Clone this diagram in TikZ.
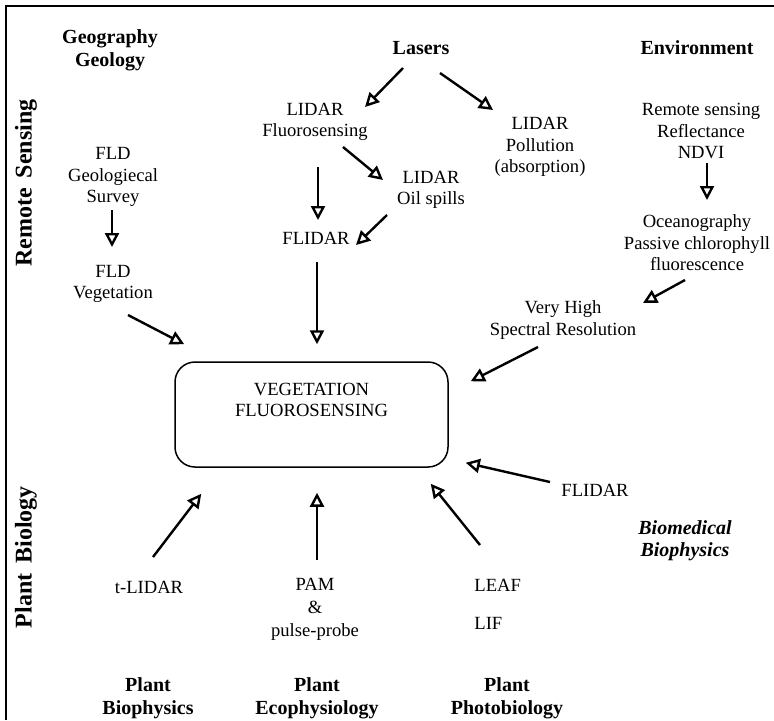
\documentclass[tikz,border=0pt]{standalone}
\usepackage{fontspec}
\setmainfont{Liberation Serif}
\usetikzlibrary{arrows.meta}
\tikzset{
  lbl/.style={font=\fontsize{9.3}{10.7}\selectfont, align=center, inner sep=0pt},
  head/.style={font=\fontsize{10}{11.5}\selectfont\bfseries, align=center, inner sep=0pt},
  side/.style={font=\fontsize{12}{14}\selectfont\bfseries, rotate=90, inner sep=0pt},
  arr/.style={line width=1.2pt, -{Triangle[open,length=7pt,width=7pt]}}
}
\begin{document}
\begin{tikzpicture}[x=0.5pt,y=-0.5pt]
                    \useasboundingbox (0,0) rectangle (774,720);
                    % Drawing frame
                    \draw [line width=1.1pt] (6,720) -- (6,6) -- (774,6);%

                    % Side titles
                    \node [side] (remsens) at (26,183) {Remote\hspace{5pt}Sensing};%
                    \node [side] (plantbio) at (26,557) {Plant\hspace{5pt}Biology};%

                    % Headings
                    \node [head] (geo) at (110,50) {Geography\\Geology};%
                    \node [head] (lasers) at (421,48) {Lasers};%
                    \node [head] (env) at (697,48) {Environment};%
                    \node [head] (pbiophys) at (148,698) {Plant\\Biophysics};%
                    \node [head] (pecophys) at (317,698) {Plant\\Ecophysiology};%
                    \node [head] (pphoto) at (507,698) {Plant\\Photobiology};%
                    \node [head, font=\fontsize{10}{11}\selectfont\bfseries\itshape] (biomed) at (685,541) {Biomedical\\Biophysics};%

                    % Techniques
                    \node [lbl] (lidarfl) at (315,122) {LIDAR\\Fluorosensing};%
                    \node [lbl] (lidarpol) at (540,147) {LIDAR\\Pollution\\(absorption)};%
                    \node [lbl] (lidaroil) at (431,190) {LIDAR\\Oil spills};%
                    \node [lbl] (flidartop) at (316,238) {FLIDAR};%
                    \node [lbl] (fldgeo) at (113,177) {FLD\\Geologiecal\\Survey};%
                    \node [lbl] (fldveg) at (113,284) {FLD\\Vegetation};%
                    \node [lbl] (remref) at (701,131) {Remote sensing\\Reflectance\\NDVI};%
                    \node [lbl] (ocean) at (697,243) {Oceanography\\Passive chlorophyll\\fluorescence};%
                    \node [lbl] (vhsr) at (563,320) {Very High\\Spectral Resolution};%
                    \node [lbl] (flidarright) at (595,490) {FLIDAR};%
                    \node [lbl] (tlidar) at (149,587) {t-LIDAR};%
                    \node [lbl, font=\fontsize{9.3}{11.5}\selectfont] (pam) at (315,609) {PAM\\\&\\pulse-probe};%
                    \node [lbl, align=left, anchor=west] (leaf) at (474,604.5) {LEAF\\[8pt]LIF};%

                    % Central box
                    \node [lbl, draw, line width=0.75pt, rounded corners=10pt, minimum width=136.5pt, minimum height=52.5pt]
                      (vegfl) at (311.5,414.5) {VEGETATION\\FLUOROSENSING\\[4pt]};%

                    % Drawing arrows
                    \draw [arr] ([shift={(-18,20)}]lasers.center) -- ([shift={(50,-15)}]lidarfl.center);%
                    \draw [arr] ([shift={(19,25)}]lasers.center) -- ([shift={(-47,-37)}]lidarpol.center);%
                    \draw [arr] ([shift={(28,25)}]lidarfl.center) -- ([shift={(-48,-10)}]lidaroil.center);%
                    \draw [arr] ([shift={(3,45)}]lidarfl.center) -- ([shift={(2,-18)}]flidartop.center);%
                    \draw [arr] ([shift={(-44,25)}]lidaroil.center) -- ([shift={(40,7)}]flidartop.center);%
                    \draw [arr] ([shift={(1,24)}]flidartop.center) -- ([shift={(5.5,-17)}]vegfl.north);%
                    \draw [arr] ([shift={(-1,33)}]fldgeo.center) -- ([shift={(-1,-37)}]fldveg.center);%
                    \draw [arr] ([shift={(15,31)}]fldveg.center) -- ([shift={(10,-17)}]vegfl.north west);%
                    \draw [arr] ([shift={(6,32)}]remref.center) -- ([shift={(10,-43)}]ocean.center);%
                    \draw [arr] ([shift={(-12,37)}]ocean.center) -- ([shift={(80,-17)}]vhsr.center);%
                    \draw [arr] ([shift={(-25,27)}]vhsr.center) -- ([shift={(22,20)}]vegfl.north east);%
                    \draw [arr] ([shift={(-45,-8)}]flidarright.center) -- ([shift={(17,-5)}]vegfl.south east);%
                    \draw [arr] ([shift={(4,-30)}]tlidar.center) -- ([shift={(27,26)}]vegfl.south west);%
                    \draw [arr] ([shift={(2,-49)}]pam.center) -- ([shift={(5.5,25)}]vegfl.south);%
                    \draw [arr] ([shift={(6,-59.5)}]leaf.west) -- ([shift={(-18,16)}]vegfl.south east);%
\end{tikzpicture}
\end{document}
